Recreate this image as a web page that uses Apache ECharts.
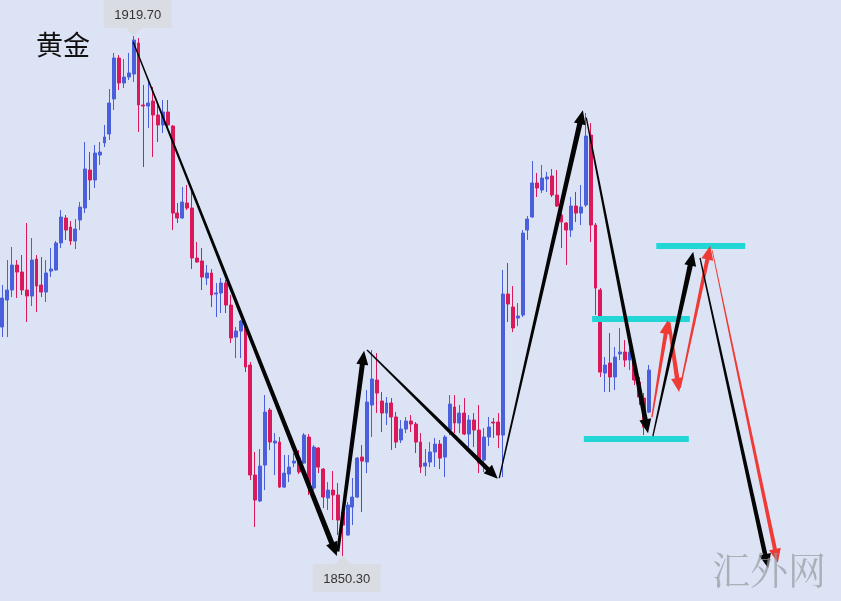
<!DOCTYPE html>
<html>
<head>
<meta charset="utf-8">
<script src="https://cdn.jsdelivr.net/npm/echarts@6/dist/echarts.min.js"></script>
<style>
html,body{margin:0;padding:0;background:#dce3f4;}
#chart{width:841px;height:601px;}
</style>
</head>
<body>
<div id="chart"></div>
<script>
// ---- data ----
const titleText = '黄金';
const watermarkText = '汇外网';
const slotCount = 173; // category slots (candles + empty space on the right)

const openP = [1880.86,1884.46,1885.80,1889.13,1888.20,1885.80,1885.00,1889.93,1886.46,1885.53,
1888.33,1888.47,1892.07,1895.41,1894.21,1892.34,1895.14,1896.74,1901.81,1900.48,
1903.81,1905.42,1906.62,1911.29,1916.76,1913.42,1914.22,1914.62,1918.76,1910.49,
1910.35,1911.02,1909.15,1907.82,1909.55,1907.68,1896.07,1895.41,1897.41,1896.74,
1890.07,1889.67,1887.40,1888.07,1885.26,1885.40,1886.73,1883.79,1879.52,1880.32,
1880.86,1875.79,1861.11,1857.64,1862.44,1869.78,1865.38,1865.51,1859.50,1861.24,
1862.71,1863.37,1862.71,1866.18,1859.37,1864.71,1861.91,1858.04,1859.10,1858.44,
1856.17,1853.10,1856.84,1858.17,1863.51,1862.84,1870.45,1873.79,1870.98,1869.38,
1870.72,1868.85,1865.78,1867.25,1868.31,1867.91,1865.51,1862.31,1862.84,1864.18,
1865.24,1863.51,1867.11,1870.18,1868.05,1869.38,1866.58,1868.45,1867.11,1863.11,
1866.18,1868.18,1868.18,1866.44,1885.26,1883.53,1882.06,1882.46,1893.80,1895.54,
1900.08,1899.14,1900.61,1901.01,1898.48,1895.81,1894.74,1893.80,1897.01,1896.07,
1897.14,1906.48,1894.47,1885.80,1874.72,1876.05,1874.19,1877.26,1877.52,1876.45,
1876.05,1873.52,1871.38,1869.51];
const closeP = [1884.73,1885.80,1889.13,1888.20,1885.80,1885.00,1889.80,1886.33,1885.53,1888.07,
1888.60,1892.07,1895.54,1893.80,1892.34,1893.94,1896.87,1901.95,1900.48,1904.08,
1904.21,1906.22,1910.75,1916.76,1913.42,1914.22,1914.76,1919.16,1910.49,1910.35,
1910.75,1909.15,1907.82,1909.55,1907.82,1896.07,1895.41,1897.54,1896.74,1890.07,
1889.53,1887.53,1888.07,1885.13,1885.40,1886.73,1883.79,1879.39,1880.32,1881.66,
1875.52,1861.11,1857.77,1862.31,1869.51,1865.51,1865.64,1859.50,1861.37,1862.17,
1862.97,1861.51,1866.44,1859.77,1864.84,1862.17,1858.17,1859.10,1858.44,1855.10,
1854.43,1857.10,1858.17,1863.37,1862.97,1870.85,1873.92,1872.05,1869.38,1870.72,
1868.85,1865.51,1867.25,1868.31,1867.91,1865.51,1862.17,1862.71,1864.18,1865.24,
1863.37,1866.18,1870.58,1868.05,1869.38,1866.58,1868.45,1867.11,1862.71,1866.18,
1867.51,1868.05,1866.44,1885.26,1883.93,1880.73,1882.33,1893.40,1895.27,1900.08,
1899.41,1900.74,1900.88,1898.48,1897.01,1894.87,1893.80,1897.01,1896.07,1896.87,
1906.35,1894.47,1886.06,1874.85,1875.79,1874.19,1876.85,1877.52,1876.45,1877.52,
1873.79,1871.52,1867.51,1875.12];
const lowP = [1879.52,1879.52,1884.86,1884.73,1885.13,1881.53,1883.66,1882.86,1884.86,1884.20,
1887.53,1888.40,1891.40,1892.47,1891.80,1891.27,1893.80,1896.07,1897.81,1899.41,
1902.48,1904.88,1905.82,1909.82,1912.49,1912.76,1913.82,1913.56,1906.88,1902.21,
1907.42,1903.55,1905.55,1906.75,1907.15,1893.80,1894.74,1895.30,1896.47,1888.60,
1889.45,1885.80,1886.46,1883.53,1882.19,1882.73,1882.73,1878.72,1876.72,1876.72,
1874.85,1860.44,1854.17,1857.50,1859.10,1864.44,1861.11,1859.40,1859.40,1860.17,
1862.17,1861.24,1862.60,1858.44,1859.10,1861.37,1856.70,1856.44,1855.10,1853.10,
1850.30,1853.00,1854.43,1858.04,1856.17,1861.37,1866.18,1869.38,1866.85,1867.78,
1864.44,1864.71,1865.38,1866.71,1866.85,1864.04,1861.37,1860.97,1862.17,1862.17,
1861.91,1860.84,1866.44,1866.71,1866.71,1866.44,1864.84,1864.84,1861.37,1861.51,
1864.98,1866.05,1864.71,1860.84,1881.53,1880.19,1880.99,1882.19,1892.47,1895.41,
1898.21,1898.74,1898.88,1898.21,1896.87,1891.40,1889.13,1892.87,1894.87,1894.47,
1896.87,1892.20,1882.46,1874.19,1872.18,1872.18,1872.45,1876.45,1875.52,1875.12,
1873.12,1870.45,1866.44,1869.38];
const highP = [1886.46,1889.80,1891.54,1889.80,1890.47,1894.74,1892.74,1890.47,1890.20,1889.80,
1891.40,1892.34,1896.47,1895.81,1895.01,1895.27,1897.54,1905.55,1904.21,1905.15,
1905.55,1907.82,1912.62,1917.43,1917.16,1916.63,1917.43,1919.70,1919.43,1913.16,
1913.82,1912.89,1910.49,1911.15,1911.15,1907.82,1897.41,1899.54,1899.81,1899.54,
1892.20,1891.40,1889.13,1888.60,1886.73,1887.40,1887.13,1885.13,1880.86,1881.79,
1881.53,1876.19,1864.18,1864.58,1871.78,1870.05,1866.71,1866.18,1863.78,1863.78,
1864.04,1864.44,1866.71,1866.58,1865.11,1864.84,1862.04,1860.17,1861.64,1860.04,
1856.30,1857.50,1860.71,1863.51,1865.11,1872.45,1877.79,1877.39,1872.18,1871.52,
1871.38,1869.51,1868.45,1868.85,1869.11,1868.18,1866.71,1864.58,1865.51,1866.05,
1865.78,1866.44,1871.78,1871.78,1870.45,1871.38,1869.11,1869.38,1870.45,1867.38,
1868.85,1868.71,1869.38,1888.47,1889.40,1886.33,1884.06,1893.80,1895.67,1903.01,
1901.41,1902.48,1901.55,1901.95,1901.81,1896.07,1894.87,1898.21,1898.88,1899.81,
1909.42,1908.08,1894.74,1886.06,1876.85,1880.06,1878.19,1880.73,1879.12,1878.06,
1876.19,1874.19,1872.05,1875.79];

// extreme labels: [slot index, price, side(1 above / -1 below)]
const extremeLabels = [[27, 1919.70, 1], [70, 1850.30, -1]];

// arrows: [fromSlot, fromPrice, toSlot, toPrice, tailWidth, shaftWidth]
const blackArrows = [
  [26.9, 1918.9, 68.8, 1850.3, 1.3, 5.2],
  [69.0, 1850.9, 74.4, 1877.7, 3, 5],
  [75.0, 1877.8, 101.9, 1860.6, 1.3, 4.5],
  [102.2, 1860.7, 119.4, 1909.8, 1.3, 5.2],
  [120.1, 1908.8, 132.8, 1866.7, 1.3, 4.8],
  [133.8, 1866.3, 142.1, 1890.9, 1.3, 5.2],
  [143.5, 1890.1, 157.5, 1848.7, 1.3, 4.5]
];
const redArrows = [
  [133.6, 1868.8, 136.9, 1881.8, 1.3, 4],
  [137.1, 1881.5, 139.2, 1872.2, 3, 4.5],
  [139.4, 1872.7, 145.6, 1891.7, 1.3, 4],
  [146.0, 1891.1, 159.5, 1849.4, 0.8, 4]
];
// horizontal levels: [fromSlot, toSlot, price]
const levels = [
  [134.5, 152.8, 1891.7],
  [121.3, 141.4, 1881.9],
  [119.6, 141.2, 1866.0]
];

const yMin = 1844.30, yMax = 1924.50;

// ---- build ----
const categories = Array.from({length: slotCount}, (_, i) => String(i + 1));
const ohlc = openP.map((o, i) => [o, closeP[i], lowP[i], highP[i]]);

function arrowRender(color) {
  return function (params, api) {
    const s = api.coord([api.value(0), api.value(1)]);
    const e = api.coord([api.value(2), api.value(3)]);
    const w0 = api.value(4), w1 = api.value(5);
    const dx = e[0] - s[0], dy = e[1] - s[1];
    const len = Math.sqrt(dx * dx + dy * dy);
    const ux = dx / len, uy = dy / len;
    const nx = -uy, ny = ux;
    const headL = 14, headW = 6;
    const b = [e[0] - ux * headL, e[1] - uy * headL];
    const pts = [
      [s[0] + nx * w0 / 2, s[1] + ny * w0 / 2],
      [b[0] + nx * w1 / 2, b[1] + ny * w1 / 2],
      [b[0] + nx * headW, b[1] + ny * headW],
      e,
      [b[0] - nx * headW, b[1] - ny * headW],
      [b[0] - nx * w1 / 2, b[1] - ny * w1 / 2],
      [s[0] - nx * w0 / 2, s[1] - ny * w0 / 2]
    ];
    return {type: 'polygon', shape: {points: pts}, style: {fill: color}};
  };
}

function labelRender(params, api) {
  const p = api.coord([api.value(0), api.value(1)]);
  const side = api.value(2);
  const bw = 68, bh = 28, th = 8, tw = 8;
  const boxY = side > 0 ? p[1] - th - bh : p[1] + th;
  const baseY = side > 0 ? p[1] - th : p[1] + th;
  const cx = p[0] + 4;
  const txt = api.value(1).toFixed(2);
  return {
    type: 'group',
    children: [
      {type: 'rect', shape: {x: cx - bw / 2, y: boxY, width: bw, height: bh}, style: {fill: '#d9dce3'}},
      {type: 'polygon', shape: {points: [[p[0] - tw, baseY], [p[0] + tw, baseY], [p[0], p[1]]]}, style: {fill: '#d9dce3'}},
      {type: 'text', x: cx, y: boxY + bh / 2 + 1, style: {text: txt, fill: '#333', font: '13px "Liberation Sans", Arial, sans-serif', align: 'center', verticalAlign: 'middle'}}
    ]
  };
}

const chart = echarts.init(document.getElementById('chart'), null, {renderer: 'canvas'});
chart.setOption({
  animation: false,
  backgroundColor: '#dce3f4',
  grid: {left: 0, right: 0, top: 0, bottom: 0},
  xAxis: [
    {type: 'category', data: categories, boundaryGap: true, show: false},
    {type: 'value', min: -0.5, max: slotCount - 0.5, show: false}
  ],
  yAxis: {type: 'value', min: yMin, max: yMax, show: false, splitLine: {show: false}},
  graphic: [
    {type: 'text', left: 36, top: 31, style: {text: titleText, fill: '#111', font: '27px "Noto Sans CJK SC", sans-serif'}},
    {type: 'text', left: 712, top: 551, style: {text: watermarkText, fill: 'rgba(150,152,158,0.7)', font: '38px "Noto Serif CJK SC", "Noto Sans CJK SC", serif'}, z: 100}
  ],
  series: [
    {
      type: 'candlestick',
      data: ohlc,
      barWidth: 3.4,
      itemStyle: {color: '#4a5fdb', color0: '#d9195a', borderColor: '#4a5fdb', borderColor0: '#d9195a', borderWidth: 1}
    },
    {
      type: 'lines',
      coordinateSystem: 'cartesian2d',
      xAxisIndex: 1,
      polyline: false,
      data: levels.map(l => ({coords: [[l[0], l[2]], [l[1], l[2]]]})),
      lineStyle: {color: '#22d6d6', width: 6, opacity: 1, cap: 'butt'},
      silent: true,
      z: 3
    },
    {
      type: 'custom',
      xAxisIndex: 1,
      data: redArrows,
      encode: {x: [0, 2], y: [1, 3]},
      renderItem: arrowRender('#f03a35'),
      clip: false,
      silent: true,
      z: 4
    },
    {
      type: 'custom',
      xAxisIndex: 1,
      data: blackArrows,
      encode: {x: [0, 2], y: [1, 3]},
      renderItem: arrowRender('#050505'),
      clip: false,
      silent: true,
      z: 5
    },
    {
      type: 'custom',
      xAxisIndex: 0,
      data: extremeLabels,
      encode: {x: 0, y: 1},
      renderItem: labelRender,
      clip: false,
      silent: true,
      z: 6
    }
  ]
});
</script>
</body>
</html>
